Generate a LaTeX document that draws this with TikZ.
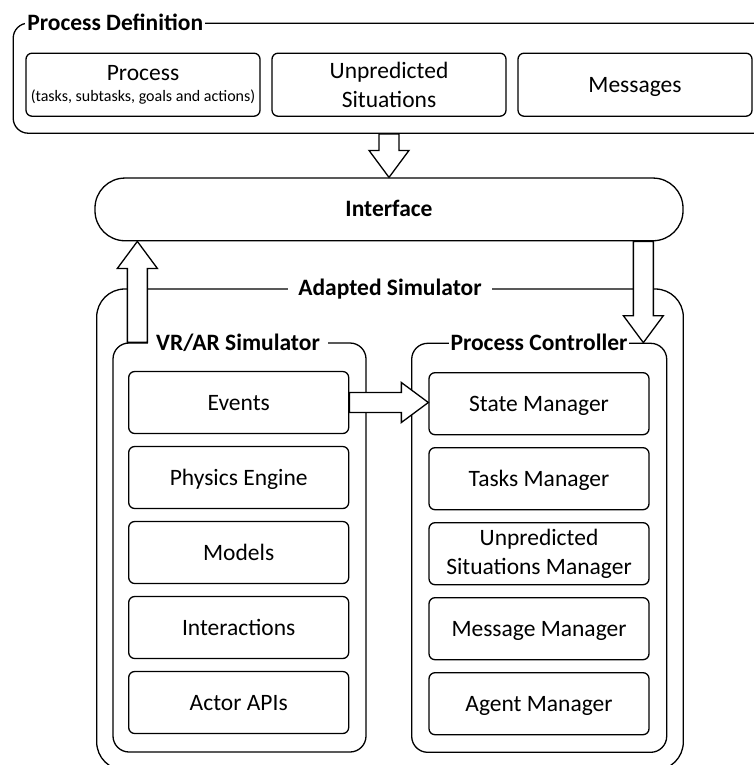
\documentclass[tikz,border=0pt]{standalone}
\usepackage{fontspec}
\setmainfont{Carlito}
\usetikzlibrary{positioning,calc}
\newcommand{\boxfont}{\fontsize{23.5}{28.5}\selectfont}
\newcommand{\titlefont}{\fontsize{23.5}{28.5}\selectfont\bfseries}
\newcommand{\blockarrow}[2]{%
  \coordinate (head base) at ($(#2)!27pt!(#1)$);
  \draw[big arrow] ($(#1)!10pt!90:(#2)$) -- ($(head base)!10pt!-90:(#1)$)
    -- ($(head base)!20pt!-90:(#1)$) -- (#2)
    -- ($(head base)!20pt!90:(#1)$) -- ($(head base)!10pt!90:(#1)$)
    -- ($(#1)!10pt!-90:(#2)$) -- cycle;}

\begin{document}
\begin{tikzpicture}[x=1pt,y=-1pt,line width=1.3pt,node distance=11.7pt,
  group node/.style={draw,minimum width=253pt,minimum height=409pt,rounded corners=16pt},
  title node/.style={fill=white,inner xsep=2pt,inner ysep=1pt,text height=15pt,text depth=0pt,font=\titlefont},
  main node/.style={draw,rounded corners=6pt,minimum width=220pt,minimum height=62pt,inner sep=0pt,
    align=center,text height=15pt,text depth=0pt,font=\boxfont},
  top node/.style={main node,minimum width=234pt,minimum height=63pt},
  big arrow/.style={draw,fill=white,line join=miter}]

  \useasboundingbox (0,0) rectangle (753,765);

  % process definition
  \node[group node,minimum width=759pt,minimum height=110pt,rounded corners=15pt] (pd) at (392.7,78.2) {};
  \node[title node,anchor=west] (pd title) at (24.7,23) {Process Definition};
  \node[top node,text height=,text depth=] (proc) at (143,84.7)
    {Process\\[-8pt]{\fontsize{16}{19}\selectfont (tasks, subtasks, goals and actions)}};
  \node[top node,text height=,text depth=] (unp) [right=10.7pt of proc] {Unpredicted\\Situations};
  \node[top node] (msg) [right=10.7pt of unp] {Messages};

  % interface
  \node[group node,minimum width=588pt,minimum height=62.7pt,rounded corners=30pt,
    font=\titlefont,text height=15pt] (if) at (389,209.4) {Interface};

  % adapted simulator
  \node[group node,minimum width=586.6pt,minimum height=481pt,rounded corners=28pt] (as) at (390,529.5) {};
  \node[title node,inner xsep=10pt] (as title) at (as.north) {Adapted Simulator};

  \node[group node] (vr) at (239.5,547.5) {};
  \node[title node,inner xsep=8pt] (vr title) at (238,343) {VR/AR Simulator};
  \node[group node,minimum width=255pt] (pc) at (539.2,547.8) {};
  \node[title node] (pc title) at (539,343) {Process Controller};

  % simulator parts
  \node[main node] (ev) at (238.7,402.5) {Events};
  \node[main node] (pe) [below=of ev] {Physics Engine};
  \node[main node] (mo) [below=of pe] {Models};
  \node[main node] (ia) [below=of mo] {Interactions};
  \node[main node] (api) [below=of ia] {Actor APIs};

  % controller parts
  \node[main node] (sm) at (539,403.7) {State Manager};
  \node[main node] (tm) [below=of sm] {Tasks Manager};
  \node[main node,text height=,text depth=] (usm) [below=of tm] {Unpredicted\\Situations Manager};
  \node[main node] (mm) [below=of usm] {Message Manager};
  \node[main node] (am) [below=of mm] {Agent Manager};

  % block arrows
  \coordinate (pd foot) at (if.north |- pd.south);
  \coordinate (up foot) at ([xshift=25pt]vr.north west);
  \coordinate (up tip) at (up foot |- if.south);
  \coordinate (down tip) at ([xshift=-24pt]pc.north east);
  \coordinate (down foot) at (down tip |- if.south);
  \coordinate (ev tip) at (ev.east -| sm.west);
  \blockarrow{pd foot}{if.north}
  \blockarrow{up foot}{up tip}
  \blockarrow{down foot}{down tip}
  \blockarrow{ev.east}{ev tip}

\end{tikzpicture}
\end{document}
